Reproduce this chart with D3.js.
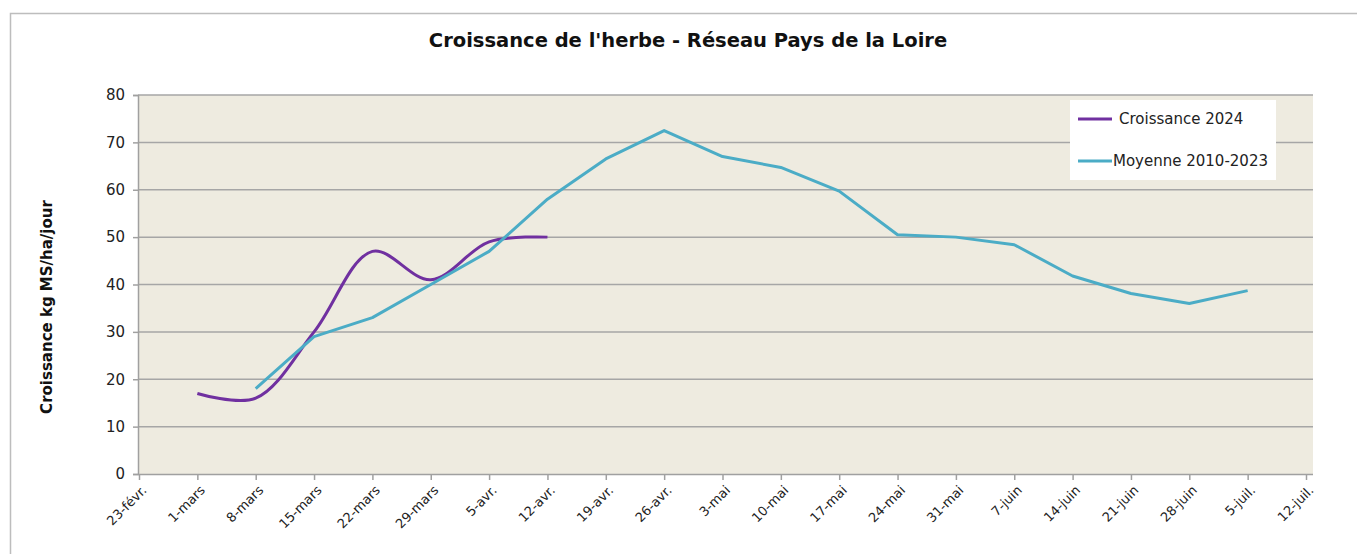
<!DOCTYPE html>
<html>
<head>
<meta charset="utf-8">
<script src="https://cdn.jsdelivr.net/npm/d3@7"></script>
<style>
  body { margin: 0; background: #fff; }
  svg { display: block; }
</style>
</head>
<body>
<svg id="chart" width="1357" height="554"></svg>
<script>
// weekly dates on the x axis
var weeks = ["23-févr.", "1-mars", "8-mars", "15-mars", "22-mars", "29-mars", "5-avr.",
  "12-avr.", "19-avr.", "26-avr.", "3-mai", "10-mai", "17-mai", "24-mai", "31-mai",
  "7-juin", "14-juin", "21-juin", "28-juin", "5-juil.", "12-juil."];

// kg MS/ha/jour, null = no value
var croissance2024 = [null, 17, 16, 30, 47, 41, 49, 50, null, null, null, null, null,
  null, null, null, null, null, null, null, null];
var moyenne2010_2023 = [null, null, 18, 29, 33, 40, 47, 58, 66.5, 72.5, 67, 64.7, 59.7,
  50.5, 50, 48.4, 41.8, 38.1, 36, 38.7, null];

var yTicks = [0, 10, 20, 30, 40, 50, 60, 70, 80];

var series = [
  { name: "Croissance 2024", values: croissance2024, color: "#7030a0", smooth: true },
  { name: "Moyenne 2010-2023", values: moyenne2010_2023, color: "#4bacc6", smooth: false }
];

var svg = d3.select("#chart");
var font = "Verdana, 'DejaVu Sans', sans-serif";

var margin = { left: 138, right: 1313, top: 95, bottom: 474 };

var x = d3.scalePoint().domain(weeks).range([139, 1306]);
var y = d3.scaleLinear().domain([0, 80]).range([margin.bottom, margin.top]);

// outer chart frame
svg.append("path")
  .attr("d", "M10.5,554 V13.5 H1357")
  .attr("fill", "none")
  .attr("stroke", "#bdbdbd")
  .attr("stroke-width", 1.5);

// title
svg.append("text")
  .attr("x", 688).attr("y", 47)
  .attr("text-anchor", "middle")
  .style("font", "bold 19.5px " + font)
  .attr("fill", "#111")
  .text("Croissance de l'herbe - Réseau Pays de la Loire");

// plot area
svg.append("rect")
  .attr("x", margin.left).attr("y", margin.top)
  .attr("width", margin.right - margin.left)
  .attr("height", margin.bottom - margin.top)
  .attr("fill", "#eeebe0");

// gridlines
svg.append("g")
  .selectAll("line")
  .data(yTicks.filter(d => d > 0))
  .join("line")
  .attr("x1", margin.left).attr("x2", margin.right)
  .attr("y1", d => y(d)).attr("y2", d => y(d))
  .attr("stroke", "#a6a6a6")
  .attr("stroke-width", 1.5);

// y axis
var yAxis = svg.append("g")
  .attr("transform", `translate(${margin.left},0)`)
  .call(d3.axisLeft(y).tickValues(yTicks).tickSize(5).tickPadding(8));
yAxis.select(".domain").attr("stroke", "#a0a0a0").attr("stroke-width", 1.5);
yAxis.selectAll(".tick line").attr("stroke", "#a0a0a0").attr("stroke-width", 1.5);
yAxis.selectAll("text").style("font", "15px " + font).attr("fill", "#222");

// x axis
var xAxis = svg.append("g")
  .attr("transform", `translate(0,${margin.bottom})`)
  .call(d3.axisBottom(x).tickSize(6).tickSizeOuter(0));
xAxis.select(".domain")
  .attr("d", `M${margin.left},0.5H${margin.right}`)
  .attr("stroke", "#a0a0a0").attr("stroke-width", 1.5);
xAxis.selectAll(".tick line").attr("stroke", "#a0a0a0").attr("stroke-width", 1.5);
xAxis.selectAll("text")
  .style("font", "13px " + font)
  .attr("fill", "#222")
  .attr("text-anchor", "end")
  .attr("dy", null)
  .attr("y", null)
  .attr("transform", "translate(8,17) rotate(-45)");

// y axis title
svg.append("text")
  .attr("transform", "translate(52,307) rotate(-90)")
  .attr("text-anchor", "middle")
  .style("font", "bold 15px " + font)
  .attr("fill", "#111")
  .text("Croissance kg MS/ha/jour");

// lines
series.forEach(s => {
  var line = d3.line()
    .defined(d => d != null)
    .x((d, i) => x(weeks[i]))
    .y(d => y(d))
    .curve(s.smooth ? d3.curveCatmullRom.alpha(0.5) : d3.curveLinear);
  svg.append("path")
    .datum(s.values)
    .attr("d", line)
    .attr("fill", "none")
    .attr("stroke", s.color)
    .attr("stroke-width", 3)
    .attr("stroke-linejoin", "round");
});

// legend
var legend = svg.append("g").attr("transform", "translate(1070,100)");
legend.append("rect")
  .attr("width", 206).attr("height", 80)
  .attr("fill", "#fff");
var item = legend.selectAll("g.item")
  .data(series)
  .join("g")
  .attr("class", "item")
  .attr("transform", (d, i) => `translate(0,${19 + i * 42})`);
item.append("line")
  .attr("x1", 8).attr("x2", 42)
  .attr("stroke", d => d.color)
  .attr("stroke-width", 3);
item.append("text")
  .attr("x", (d, i) => i === 0 ? 49 : 43)
  .attr("dy", "0.35em")
  .style("font", "15px " + font)
  .attr("fill", "#222")
  .text(d => d.name);
</script>
</body>
</html>
